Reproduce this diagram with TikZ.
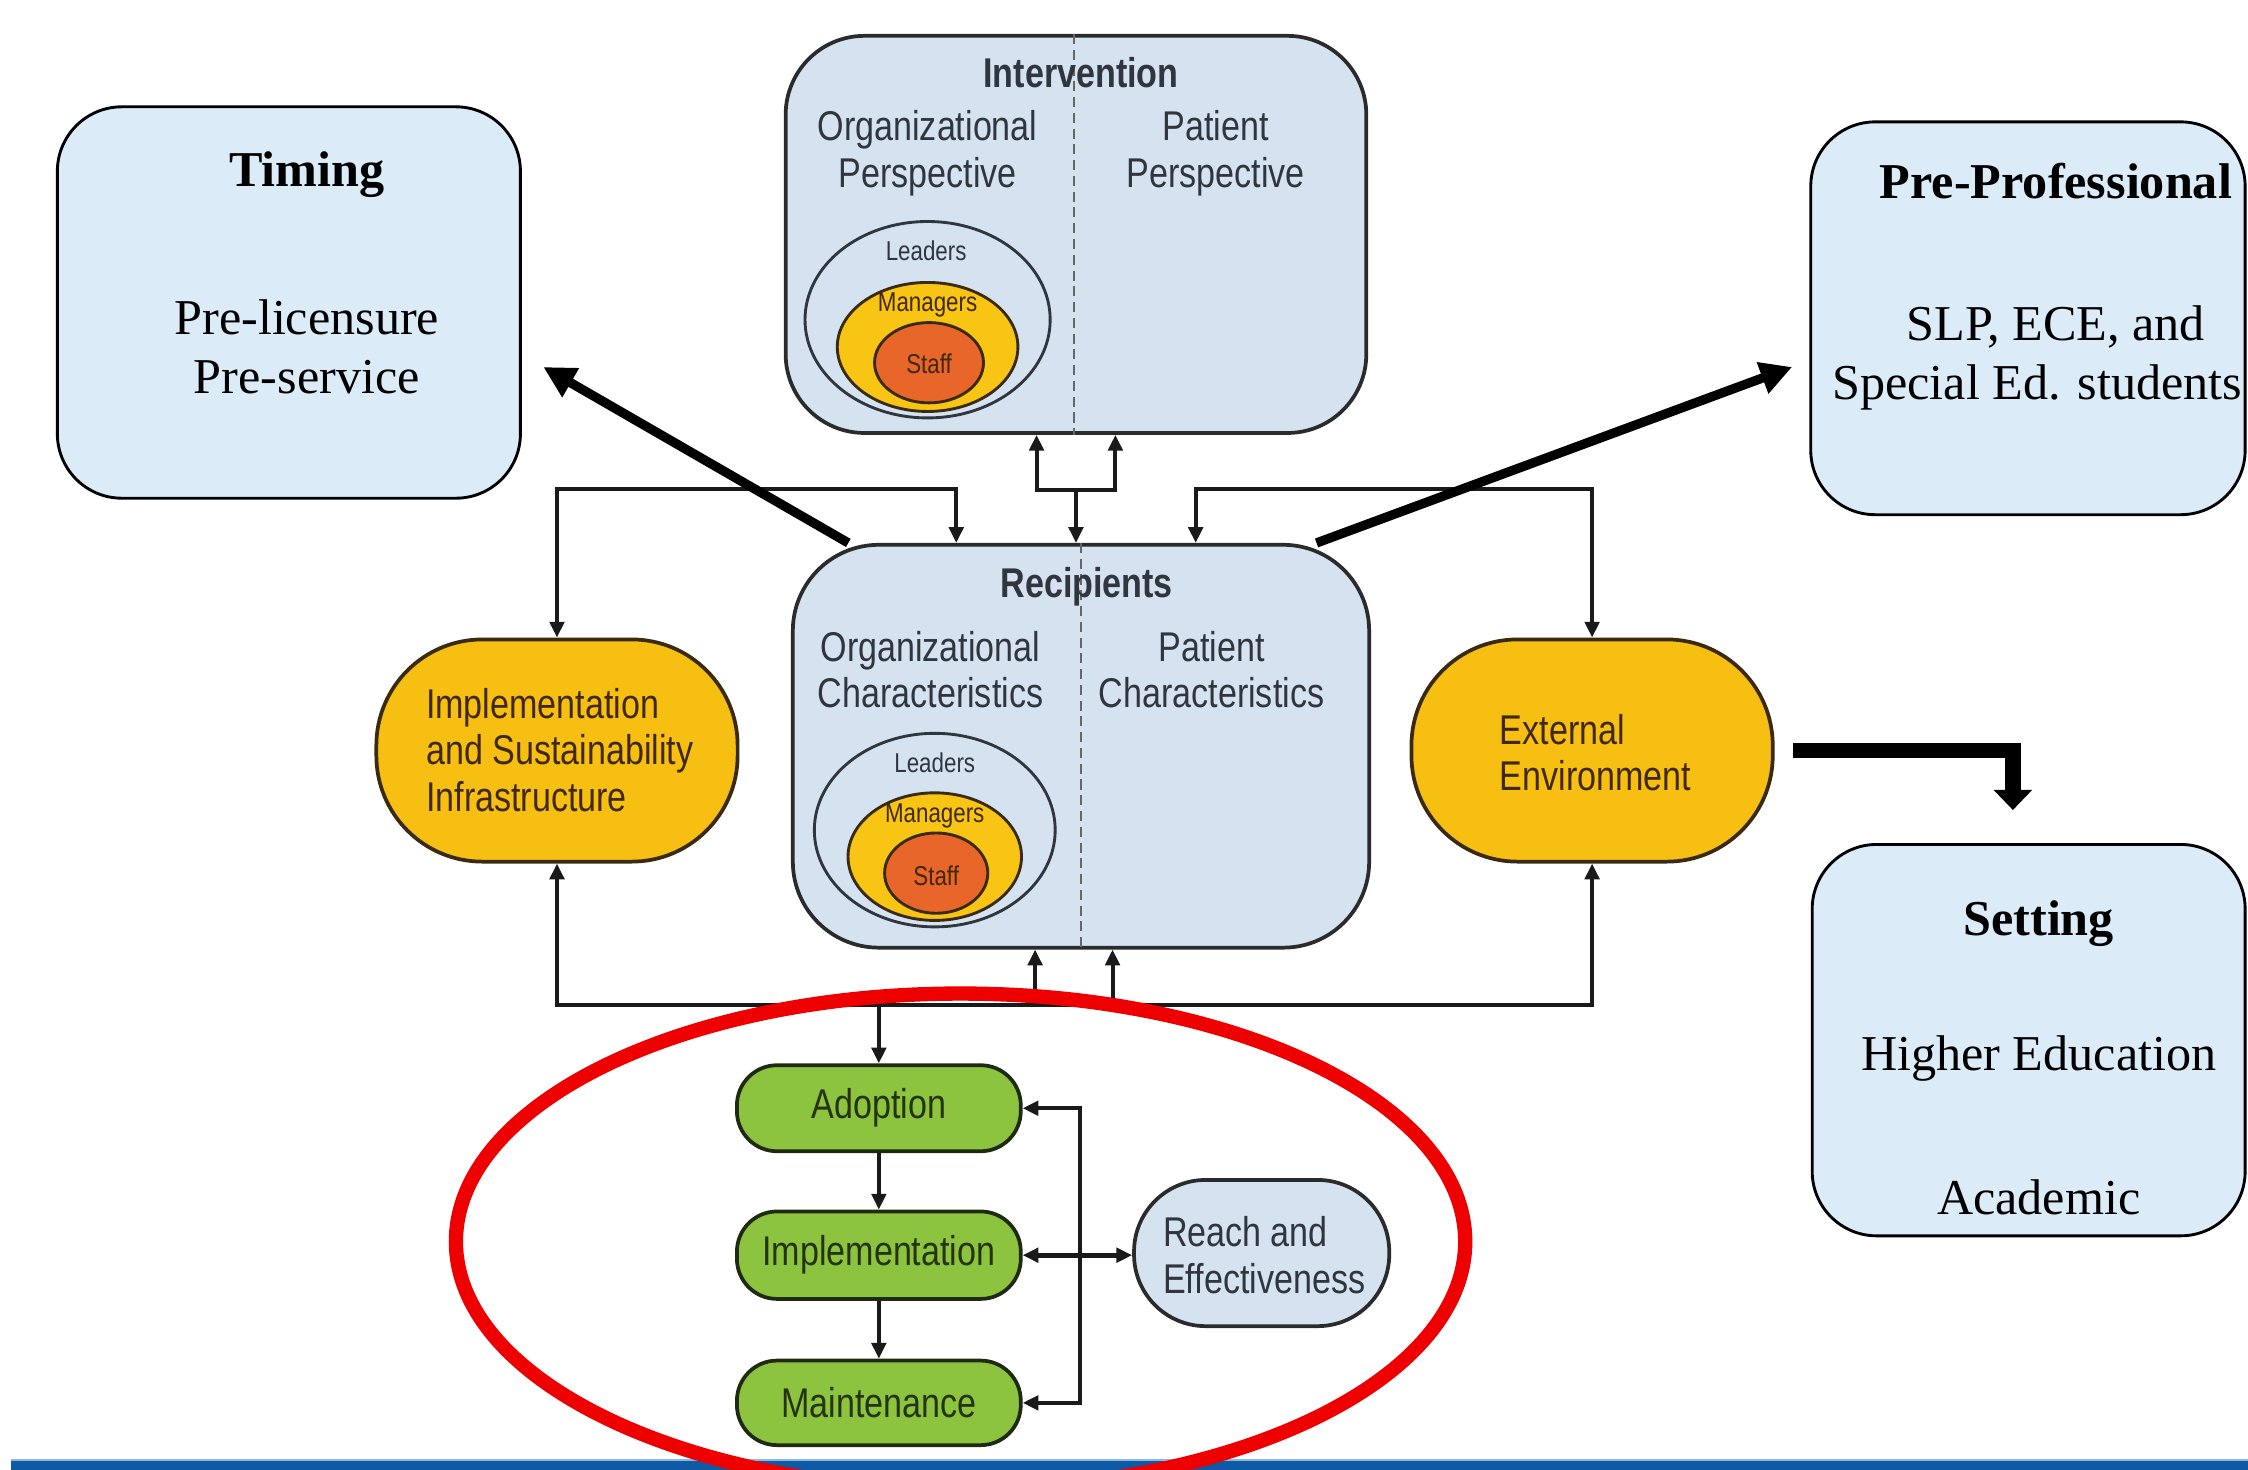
\documentclass[tikz,border=0pt]{standalone}
\usepackage{fontspec}
\setmainfont{Liberation Serif}
\newfontfamily\cond[FakeStretch=0.82]{Liberation Sans}
\usetikzlibrary{arrows.meta,calc,shapes.geometric}
\definecolor{outerblue}{HTML}{DCEBF8}
\definecolor{innerblue}{HTML}{D5E2EF}
\definecolor{boxline}{HTML}{2B2B2B}
\definecolor{txtgray}{HTML}{30353E}
\definecolor{ygold}{HTML}{F7BF12}
\definecolor{ytext}{HTML}{40290A}
\definecolor{yline}{HTML}{3A2A10}
\definecolor{mgold}{HTML}{F9C514}
\definecolor{staffor}{HTML}{E9662A}
\definecolor{gfill}{HTML}{8CC43F}
\definecolor{gtext}{HTML}{26330F}
\definecolor{gline}{HTML}{1F2A10}
\definecolor{linec}{HTML}{1A1A1A}
\definecolor{annred}{HTML}{EE0000}
\definecolor{barblue}{HTML}{0F5AA4}
\definecolor{barlight}{HTML}{8DB8E0}
\begin{document}
\begin{tikzpicture}[x=1pt,y=-1pt,
  outerbox/.style={draw=black, line width=2pt, fill=outerblue, rounded corners=45pt, inner sep=0pt},
  innerbox/.style={draw=boxline, line width=2.6pt, fill=innerblue, inner sep=0pt},
  yellowbox/.style={draw=yline, line width=2.6pt, fill=ygold, rounded corners=74pt, inner sep=0pt, minimum width=252pt, minimum height=155pt},
  greenbox/.style={draw=gline, line width=2.6pt, fill=gfill, rounded corners=28pt, inner sep=0pt, minimum width=198pt, text=gtext, font=\cond\fontsize{29}{33}\selectfont},
  serif/.style={font=\fontsize{35}{42}\selectfont, inner sep=0pt},
  serifb/.style={font=\fontsize{35}{42}\selectfont\bfseries, inner sep=0pt},
  sans/.style={font=\cond\fontsize{29}{32.5}\selectfont, text=txtgray, inner sep=0pt, align=center},
  sansb/.style={font=\cond\fontsize{29}{32.5}\selectfont\bfseries, text=txtgray, inner sep=0pt},
  small/.style={font=\cond\fontsize{19}{22}\selectfont, inner sep=0pt},
  ring/.style={ellipse, inner sep=0pt, line width=2pt},
  divider/.style={draw=gray!80!black, line width=1.3pt, dash pattern=on 7pt off 4pt},
  conn/.style={draw=linec, line width=2.8pt, >={Triangle[length=11pt,width=10pt]}},
  thickarr/.style={draw=black, line width=6.5pt, -{Triangle[length=22pt,width=22pt]}},
  extarr/.style={draw=black, line width=11pt, -{Triangle[length=14pt,width=26pt]}}
]
\useasboundingbox (0,0) rectangle (1568,1025);
\fill[white] (0,0) rectangle (1568,1025);

% ---- outer text boxes ----
\node[outerbox, minimum width=323pt, minimum height=273pt] (timing) at (201.5,211) {};
\node[serifb] (timingT) at (214,122) {Timing};
\node[serif] (timing1) at (214,221) {Pre-licensure};
\node[serif] (timing2) at (214,263) {Pre-service};

\node[outerbox, minimum width=303pt, minimum height=274pt] (prepro) at (1414.5,222) {};
\node[serifb] (preproT) at (1434,126) {Pre-Professional};
\node[serif] (prepro1) at (1434,228) {SLP, ECE, and};
\node[serif] (prepro2) at (1421,270) {Special Ed. students};

\node[outerbox, minimum width=302pt, minimum height=273pt] (setting) at (1415,725.5) {};
\node[serifb] (settingT) at (1422,644) {Setting};
\node[serif] (setting1) at (1422,738) {Higher Education};
\node[serif] (setting2) at (1422,835) {Academic};

% ---- Intervention ----
\node[innerbox, rounded corners=55pt, minimum width=405pt, minimum height=277pt] (interv) at (750.5,163.5) {};
\draw[divider] ([xshift=-1.5pt]interv.north) -- ([xshift=-1.5pt]interv.south);
\node[sansb] (intervT) at (754,51) {Intervention};
\node[sans] (intervL) at (647,107) {Organizational\\Perspective};
\node[sans] (intervR) at (848,107) {Patient\\Perspective};
\node[ring, draw=txtgray, minimum width=171pt, minimum height=137pt] (ilead) at (647,223) {};
\node[ring, draw=yline, fill=mgold, minimum width=126pt, minimum height=90pt] (iman) at (647,242) {};
\node[ring, draw=yline, fill=staffor, minimum width=76pt, minimum height=56pt] (istaff) at (648,253) {};
\node[small, text=txtgray] (ileadT) at (646,175) {Leaders};
\node[small, text=ytext] (imanT) at (647,213) {Managers};
\node[small, text=ytext] (istaffT) at (648,254) {Staff};

% ---- Recipients ----
\node[innerbox, rounded corners=60pt, minimum width=402pt, minimum height=281pt] (recip) at (754,520.5) {};
\draw[divider] (recip.north) -- (recip.south);
\node[sansb] (recipT) at (758,409) {Recipients};
\node[sans] (recipL) at (649,467) {Organizational\\Characteristics};
\node[sans] (recipR) at (845,467) {Patient\\Characteristics};
\node[ring, draw=txtgray, minimum width=168pt, minimum height=135pt] (rlead) at (652,579) {};
\node[ring, draw=yline, fill=mgold, minimum width=121pt, minimum height=89pt] (rman) at (652,597.5) {};
\node[ring, draw=yline, fill=staffor, minimum width=72pt, minimum height=56pt] (rstaff) at (653,609) {};
\node[small, text=txtgray] (rleadT) at (652,532) {Leaders};
\node[small, text=ytext] (rmanT) at (652,569) {Managers};
\node[small, text=ytext] (rstaffT) at (653,611) {Staff};

% ---- yellow boxes ----
\node[yellowbox] (impl) at (388.5,523.5) {};
\node[sans, text=ytext, align=left, anchor=west] (implT) at (297,523) {Implementation\\and Sustainability\\Infrastructure};
\node[yellowbox] (ext) at (1110.5,523.5) {};
\node[sans, text=ytext, align=left, anchor=west] (extT) at (1046,525) {External\\Environment};

% ---- green boxes ----
\node[greenbox, minimum height=60pt] (adopt) at (613,773) {Adoption};
\node[greenbox, minimum height=61pt] (implg) at (613,875.5) {Implementation};
\node[greenbox, minimum height=59pt] (maint) at (613,978.5) {Maintenance};
\node[innerbox, rounded corners=50pt, minimum width=178pt, minimum height=102pt] (reach) at (880,874) {};
\node[sans, align=left, anchor=west] (reachT) at (811,875.5) {Reach and\\Effectiveness};

% ---- connector junctions ----
\coordinate (tl) at (388.5,341);
\coordinate (tr) at (667,341);
\coordinate (tr2) at (834,341);
\coordinate (trr) at (1110.5,341);
\coordinate (mL) at (723,342);
\coordinate (mR) at (778,342);
\coordinate (mC) at (750.5,342);
\coordinate (bL) at (388.5,701);
\coordinate (bR) at (1110.5,701);
\coordinate (bU1) at (722,701);
\coordinate (bU2) at (776,701);
\coordinate (bD) at (613,701);
\coordinate (gbus) at (753,875);

% ---- thin connectors ----
\draw[conn,<->] (impl.north) -- (tl) -- (tr) -- (tr |- recip.north);
\draw[conn,<->] (ext.north) -- (trr) -- (tr2) -- (tr2 |- recip.north);
\draw[conn,<->] (mL |- interv.south) -- (mL) -- (mR) -- (mR |- interv.south);
\draw[conn,->] (mC) -- (mC |- recip.north);
\draw[conn,<->] (impl.south) -- (bL) -- (bR) -- (ext.south);
\draw[conn,->] (bU1) -- (bU1 |- recip.south);
\draw[conn,->] (bU2) -- (bU2 |- recip.south);
\draw[conn,->] (bD) -- (adopt.north);
\draw[conn,->] (adopt.south) -- (implg.north);
\draw[conn,->] (implg.south) -- (maint.north);
\draw[conn,<->] (adopt.east) -- (adopt.east -| gbus) -- (maint.east -| gbus) -- (maint.east);
\draw[conn,<->,line width=3.6pt] (implg.east) -- (implg.east -| reach.west);

% ---- thick arrows ----
\draw[thickarr] ([xshift=40pt]recip.north west) -- ([xshift=15pt,yshift=-45pt]timing.east);
\draw[thickarr] ([xshift=-38pt]recip.north east) -- ([xshift=-12pt,yshift=-34pt]prepro.west);
\draw[extarr] ([xshift=13pt]ext.east) -| ([xshift=-11pt,yshift=23pt]setting.north);

% ---- bottom bar ----
\fill[barblue] (8,1018) rectangle (1568,1030);
\draw[barlight, line width=1.2pt] (8,1018.6) -- (1568,1018.6);

% ---- red annotation ----
\node[ellipse, draw=annred, line width=10pt, inner sep=0pt, minimum width=704pt, minimum height=346pt] (focus) at (670,866) {};
\end{tikzpicture}
\end{document}
